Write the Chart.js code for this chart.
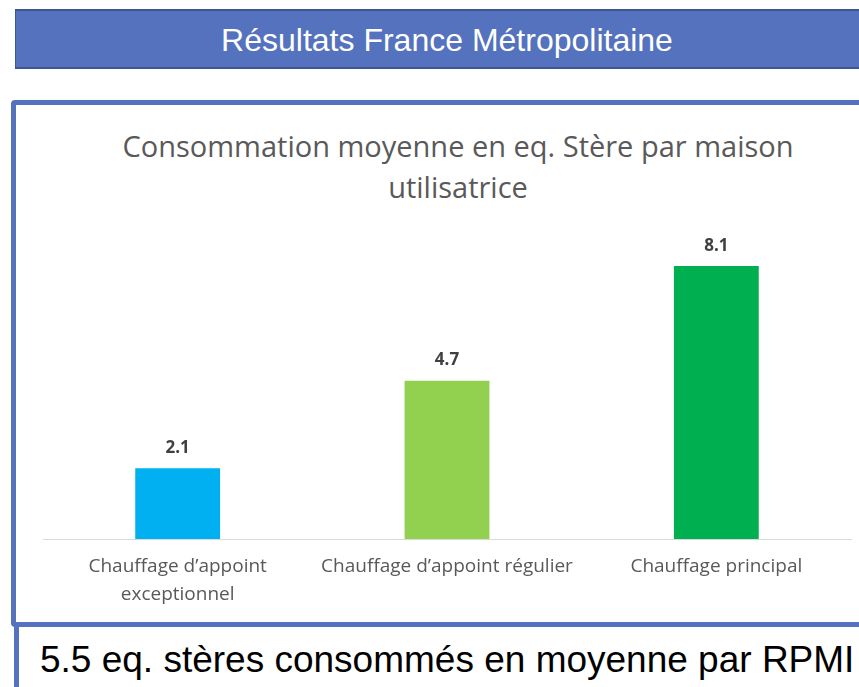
<!DOCTYPE html>
<html>
<head>
<meta charset="utf-8">
<script src="https://cdn.jsdelivr.net/npm/chart.js@4/dist/chart.umd.min.js"></script>
<style>
  html, body { margin:0; padding:0; width:859px; height:687px; overflow:hidden; background:#fff; }
  .banner { position:absolute; left:15px; top:9px; width:880px; height:60px; box-sizing:border-box;
            background:#5572BE; border-top:2px solid #3F5592; border-bottom:2px solid #3F5592; border-left:1px solid #3F5592; }
  .banner-text { position:absolute; left:0; top:24px; width:894px; text-align:center; color:#fff;
                 font-family:"Liberation Sans", Arial, sans-serif; font-size:32px; line-height:32px; white-space:nowrap; }
  .panel { position:absolute; left:11px; top:100px; width:900px; height:527px; box-sizing:border-box;
           border:5px solid #5572BE; border-radius:4px; }
  .chart-title { position:absolute; left:58px; top:125px; width:800px; text-align:center; color:#595959;
                 font-family:"Open Sans", sans-serif; font-size:29px; line-height:41px; }
  .sidebar { position:absolute; left:14px; top:627px; width:5px; height:60px; background:#5572BE; }
  .bottom-text { position:absolute; left:40px; top:641px; color:#000; font-family:"Liberation Sans", Arial, sans-serif;
                 font-size:37px; line-height:37px; white-space:nowrap; }
  #chart { position:absolute; left:16px; top:105px; }
</style>
</head>
<body>
<div class="banner"></div>
<div class="banner-text">Résultats France Métropolitaine</div>
<div class="panel"></div>
<div class="chart-title">Consommation moyenne en eq. Stère par maison<br>utilisatrice</div>
<canvas id="chart" width="843" height="518"></canvas>
<div class="sidebar"></div>
<div class="bottom-text">5.5 eq. stères consommés en moyenne par RPMI</div>
<script>
const categories = [["Chauffage d’appoint", "exceptionnel"], "Chauffage d’appoint régulier", "Chauffage principal"];
const values = [2.1, 4.7, 8.1];
const barColors = ["#00B0F0", "#92D050", "#00B050"];

const valueLabels = {
  id: 'valueLabels',
  afterDatasetsDraw(chart) {
    const ctx = chart.ctx;
    const meta = chart.getDatasetMeta(0);
    ctx.save();
    ctx.font = 'bold 17px "Open Sans"';
    ctx.fillStyle = '#404040';
    ctx.textAlign = 'center';
    ctx.textBaseline = 'middle';
    meta.data.forEach((bar, i) => {
      ctx.fillText(values[i].toFixed(1), bar.x, bar.y - 20);
    });
    ctx.restore();
  }
};

new Chart(document.getElementById('chart'), {
  type: 'bar',
  data: {
    labels: categories,
    datasets: [{
      data: values,
      backgroundColor: barColors,
      borderWidth: 0,
      categoryPercentage: 1,
      barPercentage: 0.315
    }]
  },
  options: {
    responsive: false,
    animation: false,
    devicePixelRatio: 1,
    layout: { padding: { left: 27, right: 8, top: 124, bottom: 0 } },
    plugins: {
      legend: { display: false },
      tooltip: { enabled: false },
      title: { display: false }
    },
    scales: {
      x: {
        grid: { display: false, drawTicks: false },
        border: { display: true, color: '#D9D9D9', width: 1 },
        ticks: {
          color: '#595959',
          font: { family: 'Open Sans', size: 19, lineHeight: 28/19 },
          padding: 14,
          autoSkip: false,
          maxRotation: 0
        }
      },
      y: {
        display: false,
        min: 0,
        max: 9.2
      }
    }
  },
  plugins: [valueLabels]
});
</script>
</body>
</html>
